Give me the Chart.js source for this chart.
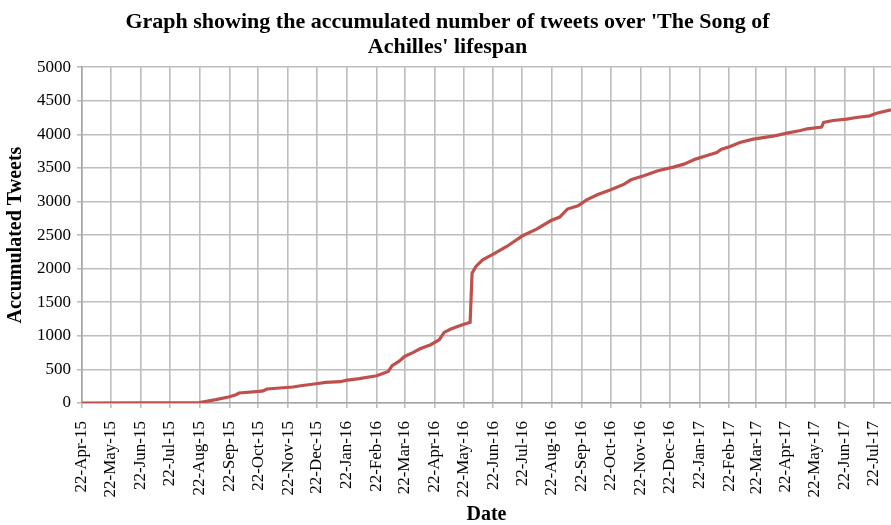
<!DOCTYPE html>
<html>
<head>
<meta charset="utf-8">
<title>Accumulated tweets</title>
<script src="https://cdn.jsdelivr.net/npm/chart.js@4.4.1/dist/chart.umd.min.js"></script>
<style>
  html, body { margin: 0; padding: 0; background: #ffffff; }
  #box { width: 891px; height: 525px; }
</style>
</head>
<body>
<div id="box"><canvas id="myChart" width="891" height="525"></canvas></div>
<script>
// dane (data, liczba tweetow narastajaco)
var pointDates = [
  '2015-04-22', '2015-08-22', '2015-09-08', '2015-09-21', '2015-09-29', '2015-10-02',
  '2015-10-23', '2015-10-27', '2015-10-31', '2015-11-27', '2015-12-05', '2015-12-21',
  '2015-12-31', '2016-01-15', '2016-01-21', '2016-02-04', '2016-02-22', '2016-03-05',
  '2016-03-09', '2016-03-16', '2016-03-22', '2016-03-31', '2016-04-07', '2016-04-18',
  '2016-04-27', '2016-05-02', '2016-05-09', '2016-05-18', '2016-05-29', '2016-05-31',
  '2016-06-04', '2016-06-11', '2016-06-22', '2016-07-06', '2016-07-23', '2016-08-06',
  '2016-08-21', '2016-08-30', '2016-09-07', '2016-09-18', '2016-09-27', '2016-10-08',
  '2016-10-22', '2016-11-05', '2016-11-12', '2016-11-26', '2016-12-10', '2016-12-26',
  '2017-01-06', '2017-01-18', '2017-01-30', '2017-02-09', '2017-02-14', '2017-02-23',
  '2017-03-05', '2017-03-19', '2017-04-10', '2017-04-23', '2017-05-07', '2017-05-14',
  '2017-05-29', '2017-05-31', '2017-06-10', '2017-06-24', '2017-07-04', '2017-07-18',
  '2017-07-25', '2017-08-09'
];
var tweetCounts = [
  0, 5, 50, 89, 124, 149,
  173, 180, 208, 238, 257, 287,
  307, 317, 336, 362, 406, 470,
  555, 619, 693, 753, 808, 868,
  942, 1051, 1101, 1150, 1200, 1934,
  2033, 2132, 2217, 2330, 2494, 2589,
  2717, 2768, 2887, 2936, 3025, 3100,
  3174, 3259, 3323, 3387, 3457, 3512,
  3556, 3631, 3685, 3730, 3779, 3819,
  3878, 3928, 3978, 4018, 4057, 4082,
  4107, 4176, 4206, 4226, 4250, 4275,
  4315, 4364
];
// etykiety osi X - co miesiac, 22 dzien
var tickDates = [
  '2015-04-22', '2015-05-22', '2015-06-22', '2015-07-22', '2015-08-22', '2015-09-22',
  '2015-10-22', '2015-11-22', '2015-12-22', '2016-01-22', '2016-02-22', '2016-03-22',
  '2016-04-22', '2016-05-22', '2016-06-22', '2016-07-22', '2016-08-22', '2016-09-22',
  '2016-10-22', '2016-11-22', '2016-12-22', '2017-01-22', '2017-02-22', '2017-03-22',
  '2017-04-22', '2017-05-22', '2017-06-22', '2017-07-22'
];
var axisEndDate = '2017-08-09';
var yTicks = [0, 500, 1000, 1500, 2000, 2500, 3000, 3500, 4000, 4500, 5000];
var monthNames = ['Jan', 'Feb', 'Mar', 'Apr', 'May', 'Jun', 'Jul', 'Aug', 'Sep', 'Oct', 'Nov', 'Dec'];

var startDate = tickDates[0];

// liczba dni od poczatku osi
function dayNumber(s) {
  var p = s.split('-');
  var a = Date.UTC(+p[0], +p[1] - 1, +p[2]);
  var q = startDate.split('-');
  var b = Date.UTC(+q[0], +q[1] - 1, +q[2]);
  return Math.round((a - b) / 86400000);
}

// format 22-Apr-15
function dateLabel(s) {
  var p = s.split('-');
  return (+p[2]) + '-' + monthNames[+p[1] - 1] + '-' + p[0].slice(2);
}

var points = [];
for (var i = 0; i < pointDates.length; i++) {
  points.push({ x: dayNumber(pointDates[i]), y: tweetCounts[i] });
}
var tickDays = tickDates.map(dayNumber);
var tickText = {};
for (var j = 0; j < tickDates.length; j++) {
  tickText[tickDays[j]] = dateLabel(tickDates[j]);
}

var serif = "'Liberation Serif', 'DejaVu Serif', serif";
var gridColor = '#bdbdbd';

var ctx = document.getElementById('myChart').getContext('2d');
var chart = new Chart(ctx, {
  type: 'line',
  data: {
    datasets: [{
      label: 'Accumulated Tweets',
      data: points,
      borderColor: '#c0504d',
      borderWidth: 3.2,
      pointRadius: 0,
      tension: 0,
      fill: false
    }]
  },
  options: {
    responsive: false,
    animation: false,
    layout: { padding: { left: 4, right: 0, top: 0, bottom: 0 } },
    plugins: {
      legend: { display: false },
      tooltip: { enabled: false },
      title: {
        display: true,
        text: ["Graph showing the accumulated number of tweets over 'The Song of", "Achilles' lifespan"],
        color: '#000000',
        font: { family: serif, size: 22, weight: 'bold', lineHeight: 1.14 },
        padding: { top: 10, bottom: 7 }
      }
    },
    scales: {
      x: {
        type: 'linear',
        min: 0,
        max: dayNumber(axisEndDate),
        afterBuildTicks: function (scale) {
          scale.ticks = tickDays.map(function (d) { return { value: d }; });
        },
        afterFit: function (scale) {
          scale.height = 122;
          scale.paddingRight = 0;
        },
        ticks: {
          autoSkip: false,
          minRotation: 90,
          maxRotation: 90,
          padding: 13,
          color: '#000000',
          font: { family: serif, size: 17 },
          callback: function (v) { return tickText[v] || ''; }
        },
        grid: { color: gridColor, lineWidth: 1.6, tickLength: 5 },
        border: { color: '#a6a6a6', width: 1.6 },
        title: {
          display: true,
          text: 'Date',
          color: '#000000',
          font: { family: serif, size: 20, weight: 'bold', lineHeight: 1 },
          padding: { top: 0, bottom: 0 }
        }
      },
      y: {
        min: 0,
        max: 5000,
        afterBuildTicks: function (scale) {
          scale.ticks = yTicks.map(function (v) { return { value: v }; });
        },
        afterFit: function (scale) {
          scale.width = 78;
        },
        ticks: {
          padding: 6,
          color: '#000000',
          font: { family: serif, size: 17 },
          callback: function (v) { return String(v); }
        },
        grid: { color: gridColor, lineWidth: 1.6, tickLength: 5 },
        border: { color: '#a6a6a6', width: 1.6 },
        title: {
          display: true,
          text: 'Accumulated Tweets',
          color: '#000000',
          font: { family: serif, size: 20, weight: 'bold' },
          padding: { top: 0, bottom: 3 }
        }
      }
    }
  }
});
</script>
</body>
</html>
